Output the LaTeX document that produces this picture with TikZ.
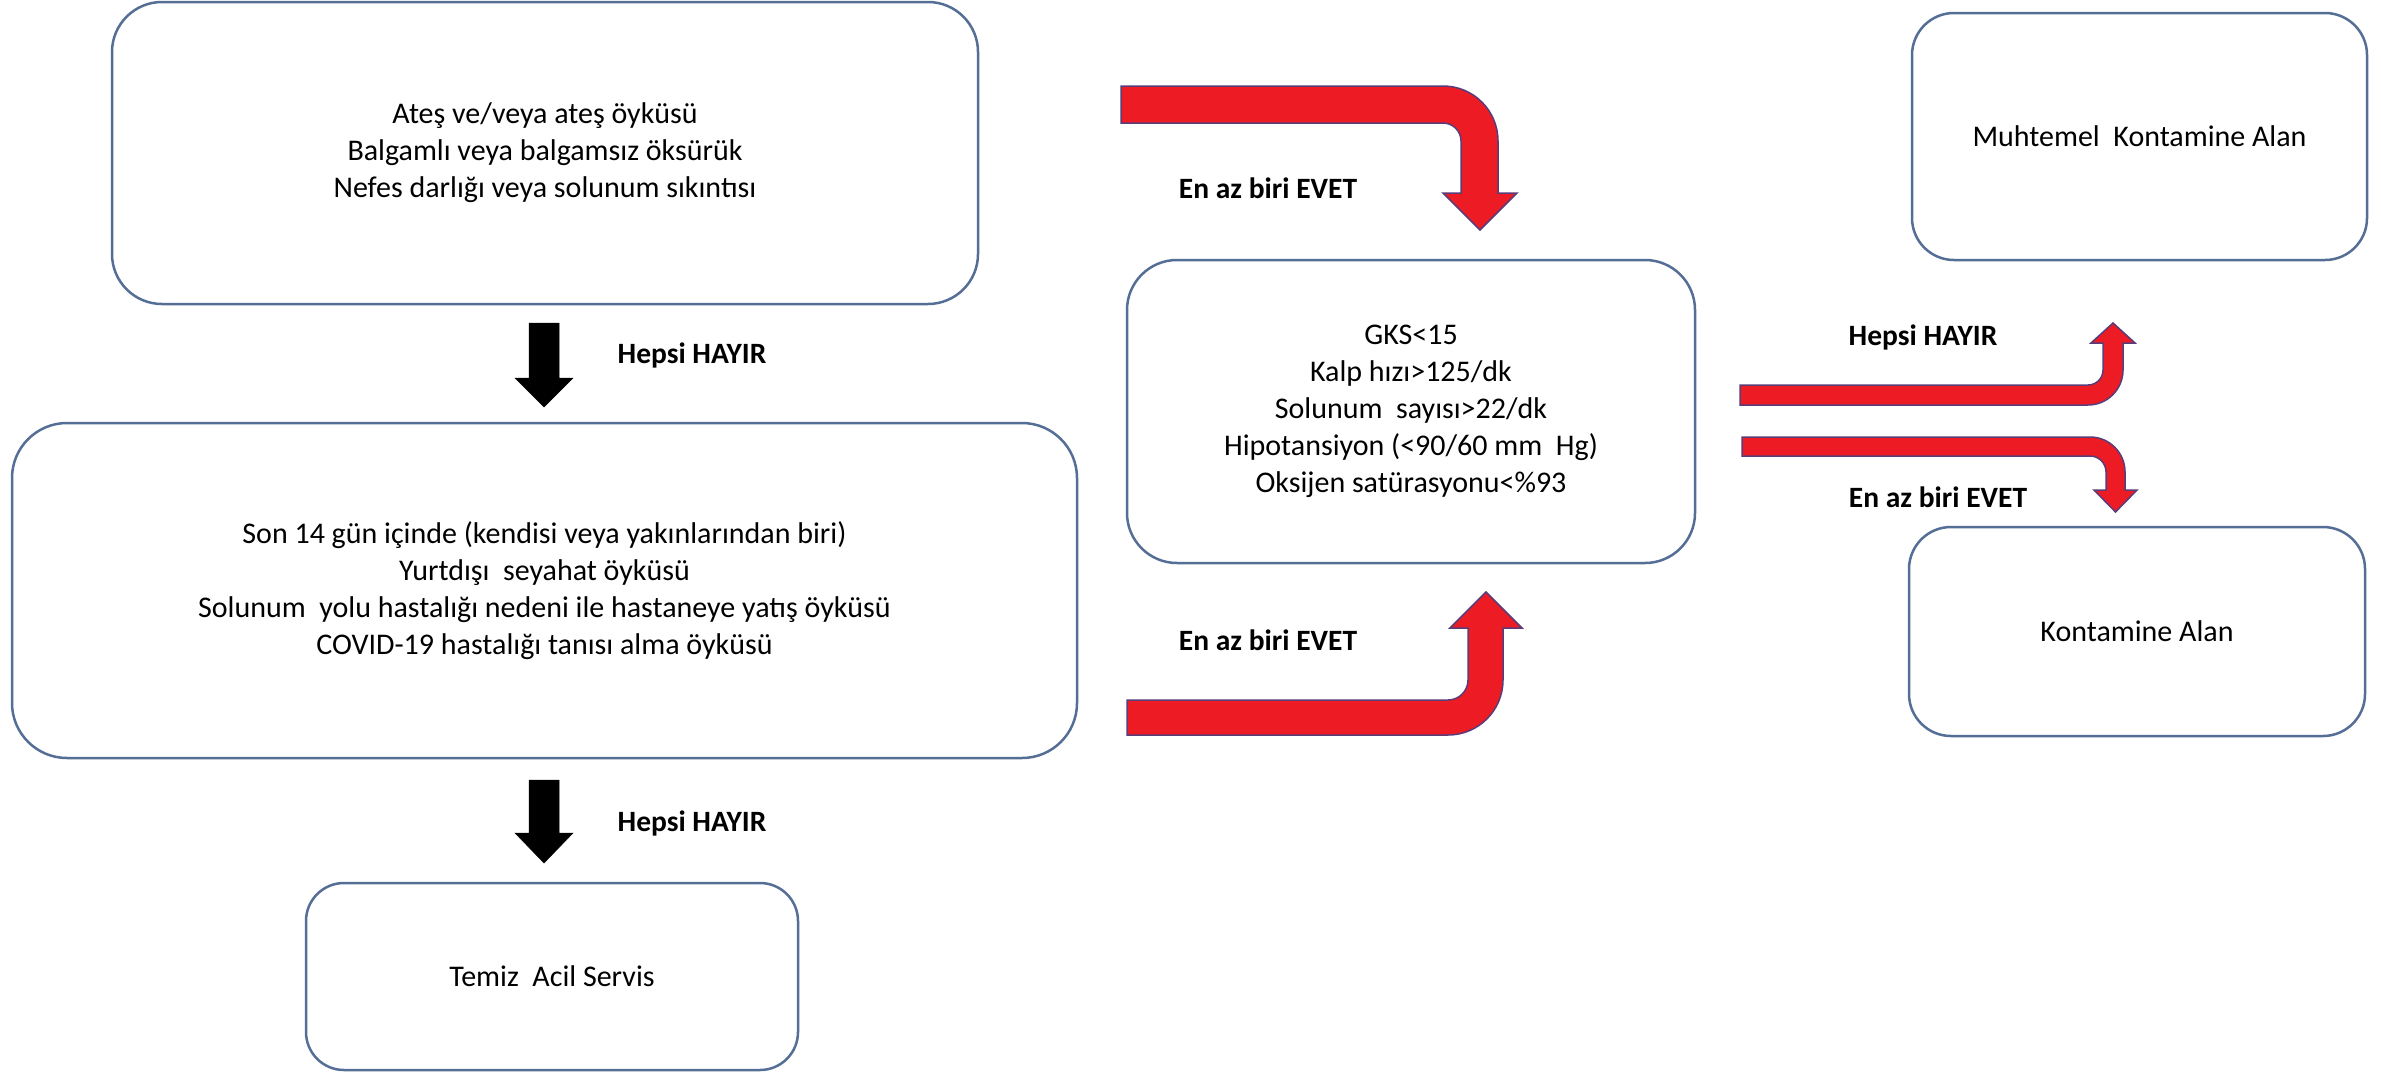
\documentclass[tikz,border=0pt]{standalone}
\usepackage{fontspec}
\setmainfont{Carlito}
\definecolor{boxline}{RGB}{85,110,150}
\definecolor{arrred}{RGB}{237,28,36}
\definecolor{arredge}{RGB}{90,60,120}
\tikzset{
  roundbox/.style={draw=boxline, line width=2.5pt, fill=white, align=center,
    inner sep=0pt, font=\fontsize{30}{37}\selectfont},
  lbl/.style={font=\fontsize{29.5}{35}\selectfont\bfseries, inner sep=0pt},
  redarrow/.style={fill=arrred, draw=arredge, line width=1.5pt, line join=miter},
  blackarrow/.style={fill=black, draw=black, line width=0.5pt}
}
\begin{document}
\begin{tikzpicture}[x=1pt,y=-1pt]
\useasboundingbox (0,0) rectangle (2381,1074);
\fill[white] (0,0) rectangle (2381,1074);

% boxes
\node[roundbox, rounded corners=50pt, minimum width=866pt, minimum height=302pt] (b1) at (545,153)
  {Ateş ve/veya ateş öyküsü\\ Balgamlı veya balgamsız öksürük\\ Nefes darlığı veya solunum sıkıntısı};
\node[roundbox, rounded corners=55pt, minimum width=1065pt, minimum height=335pt] (b2) at (544.5,590.5)
  {Son 14 gün içinde (kendisi veya yakınlarından biri)\\ Yurtdışı\ \ seyahat öyküsü\\ Solunum\ \ yolu hastalığı nedeni ile hastaneye yatış öyküsü\\ COVID-19 hastalığı tanısı alma öyküsü};
\node[roundbox, rounded corners=38pt, minimum width=492pt, minimum height=187pt] (b3) at (552,976.5)
  {Temiz\ \ Acil Servis};
\node[roundbox, rounded corners=50pt, minimum width=568pt, minimum height=303pt] (b4) at (1411,411.5)
  {GKS<15\\ Kalp hızı>125/dk\\ Solunum\ \ sayısı>22/dk\\ Hipotansiyon (<90/60 mm\ \ Hg)\\ Oksijen satürasyonu<\%93};
\node[roundbox, rounded corners=42pt, minimum width=455pt, minimum height=247pt] (b5) at (2139.5,136.5)
  {Muhtemel\ \ Kontamine Alan};
\node[roundbox, rounded corners=42pt, minimum width=456pt, minimum height=209pt] (b6) at (2137,631.5)
  {Kontamine Alan};

% black block arrows
\draw[blackarrow] (529,323) -- (559,323) -- (559,378) -- (573,378) -- (544,407) -- (515,378) -- (529,378) -- cycle;
\draw[blackarrow] (529,780) -- (559,780) -- (559,833) -- (573,833) -- (544,863) -- (515,833) -- (529,833) -- cycle;

% red bent arrows
\draw[redarrow] (1121,86) -- (1443,86) .. controls (1473.4,86) and (1498,110.6) .. (1498,141)
  -- (1498,193) -- (1517,193) -- (1480,230) -- (1443,193) -- (1461,193) -- (1461,141)
  .. controls (1461,131.1) and (1452.9,123) .. (1443,123) -- (1121,123) -- cycle;
\draw[redarrow] (1127,735) -- (1448,735) .. controls (1478.4,735) and (1503,710.4) .. (1503,680)
  -- (1503,628) -- (1522,628) -- (1486,592) -- (1450,628) -- (1468,628) -- (1468,680)
  .. controls (1468,691) and (1459,700) .. (1448,700) -- (1127,700) -- cycle;
\draw[redarrow] (1740,405) -- (2088,405) .. controls (2107.3,405) and (2123,389.3) .. (2123,370)
  -- (2123,343) -- (2135,343) -- (2113,323) -- (2091,343) -- (2103,343) -- (2103,370)
  .. controls (2103,378.3) and (2096.3,385) .. (2088,385) -- (1740,385) -- cycle;
\draw[redarrow] (1742,437) -- (2090,437) .. controls (2109.3,437) and (2125,452.7) .. (2125,472)
  -- (2125,490) -- (2137,490) -- (2115.5,512) -- (2094,490) -- (2106,490) -- (2106,472)
  .. controls (2106,463.2) and (2098.8,456) .. (2090,456) -- (1742,456) -- cycle;

% labels
\node[lbl] (l1) at (692,355) {Hepsi HAYIR};
\node[lbl] (l2) at (692,823) {Hepsi HAYIR};
\node[lbl] (l3) at (1268,188) {En az biri EVET};
\node[lbl] (l4) at (1268,640) {En az biri EVET};
\node[lbl] (l5) at (1923,337) {Hepsi HAYIR};
\node[lbl] (l6) at (1938,497) {En az biri EVET};
\end{tikzpicture}
\end{document}
